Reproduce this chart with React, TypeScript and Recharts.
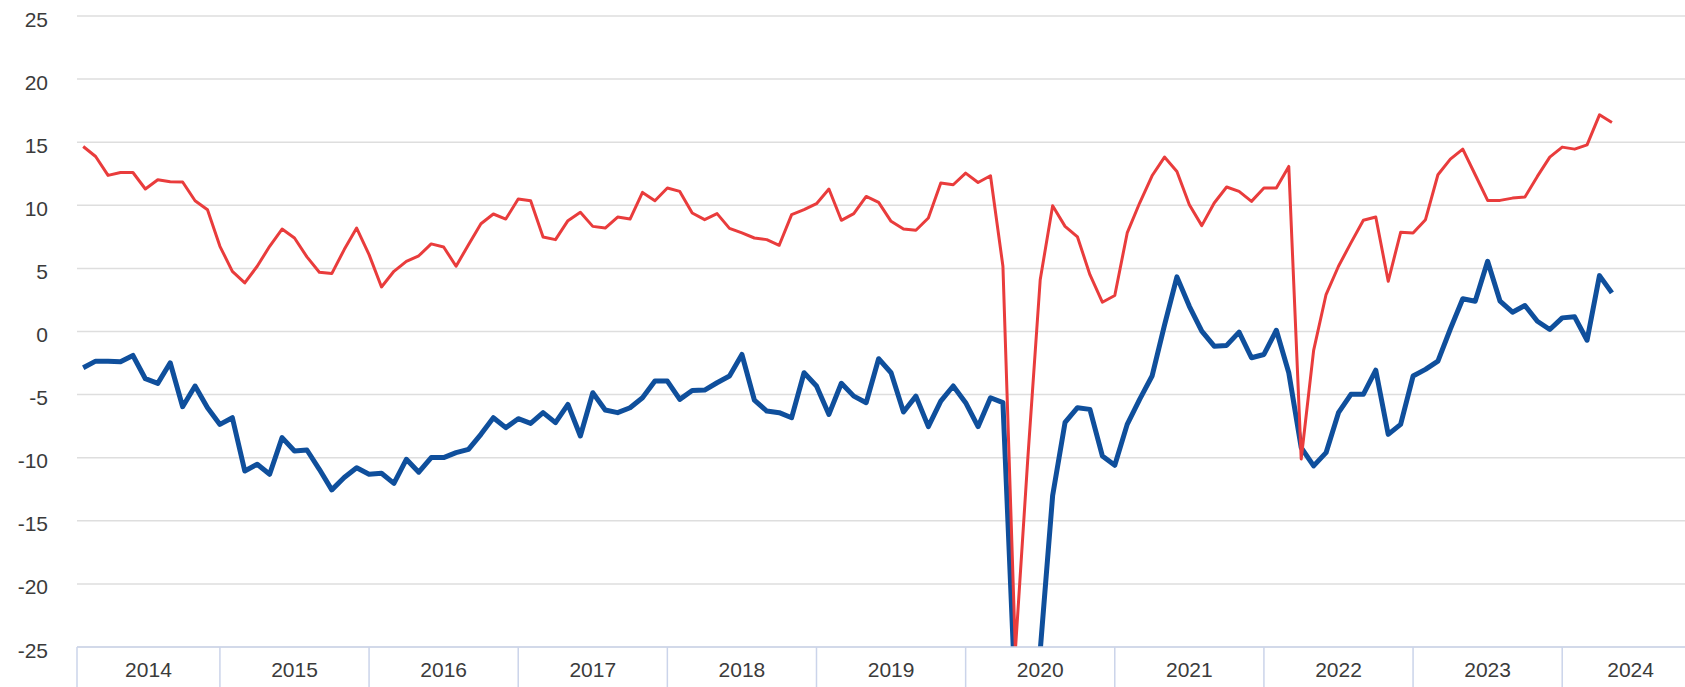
import React from 'react';
import { LineChart, Line, XAxis, YAxis, CartesianGrid } from 'recharts';

// Monthly observations, Feb 2014 .. May 2024 (index 0 = Feb 2014)
const yearLabels = ['2014', '2015', '2016', '2017', '2018', '2019', '2020', '2021', '2022', '2023', '2024'];
// index of each January point (2015..2024)
const januaryIndex = [11, 23, 35, 47, 59, 71, 83, 95, 107, 119];
const axisStart = -0.5;
const lastYearEnd = 130;
const axisEnd = 128.88;
const yTicks = [-25, -20, -15, -10, -5, 0, 5, 10, 15, 20, 25];

const redSeries = [
  14.66, 13.87, 12.37, 12.6, 12.6, 11.29, 12.03, 11.87, 11.85, 10.36,
  9.65, 6.75, 4.77, 3.85, 5.17, 6.75, 8.12, 7.41, 5.91, 4.69,
  4.59, 6.49, 8.2, 6.09, 3.53, 4.77, 5.56, 6.0, 6.94, 6.7,
  5.17, 6.88, 8.54, 9.31, 8.91, 10.5, 10.36, 7.49, 7.28, 8.78,
  9.44, 8.33, 8.2, 9.07, 8.91, 11.02, 10.36, 11.37, 11.1, 9.39,
  8.86, 9.34, 8.17, 7.81, 7.41, 7.28, 6.83, 9.26, 9.65, 10.13,
  11.29, 8.81, 9.34, 10.7, 10.23, 8.73, 8.12, 8.02, 8.99, 11.76,
  11.63, 12.55, 11.81, 12.34, 5.17, -25.3, -10.1, 4.1, 9.97, 8.33,
  7.49, 4.5, 2.32, 2.85, 7.81, 10.18, 12.34, 13.82, 12.68, 10.05,
  8.39, 10.18, 11.45, 11.1, 10.31, 11.37, 11.37, 13.08, -10.1, -1.5,
  2.93, 5.17, 7.02, 8.81, 9.07, 3.98, 7.86, 7.81, 8.86, 12.42,
  13.66, 14.45, 12.42, 10.39, 10.39, 10.57, 10.65, 12.29, 13.82, 14.61,
  14.45, 14.79, 17.17, 16.56,
];

const blueSeries = [
  -2.87, -2.35, -2.35, -2.4, -1.9, -3.74, -4.11, -2.48, -5.96, -4.32,
  -6.04, -7.36, -6.83, -11.05, -10.52, -11.31, -8.41, -9.47, -9.39, -10.92,
  -12.55, -11.57, -10.79, -11.31, -11.23, -12.03, -10.13, -11.15, -9.99, -9.99,
  -9.6, -9.34, -8.15, -6.83, -7.62, -6.91, -7.28, -6.43, -7.22, -5.78,
  -8.28, -4.85, -6.22, -6.43, -6.04, -5.25, -3.93, -3.93, -5.38, -4.67,
  -4.64, -4.06, -3.53, -1.82, -5.43, -6.3, -6.43, -6.83, -3.27, -4.32,
  -6.57, -4.1, -5.12, -5.64, -2.16, -3.27, -6.38, -5.12, -7.54, -5.51,
  -4.32, -5.64, -7.54, -5.25, -5.64, -29, -31, -25.3, -13.0, -7.2,
  -6.04, -6.17, -9.86, -10.6, -7.36, -5.38, -3.53, 0.5, 4.33, 2.0,
  0.03, -1.16, -1.1, -0.05, -2.08, -1.82, 0.1, -3.27, -9.2, -10.65,
  -9.6, -6.43, -4.98, -4.98, -3.06, -8.15, -7.36, -3.53, -3.0, -2.35,
  0.2, 2.59, 2.4, 5.56, 2.4, 1.53, 2.06, 0.81, 0.16, 1.08,
  1.16, -0.69, 4.43, 3.06,
];

const data = redSeries.map((r, i) => ({ i, red: r, blue: blueSeries[i] }));
const boundaries = [axisStart, ...januaryIndex, lastYearEnd];
const yearCenters = yearLabels.map((_, k) => (boundaries[k] + boundaries[k + 1]) / 2);
const dividerTicks = [axisStart, ...januaryIndex];
const xTicks = [...dividerTicks, ...yearCenters].sort((a, b) => a - b);

const FONT = '"Liberation Sans", Arial, sans-serif';
const TEXT = '#3b3b3b';
const AXIS = '#cbd4ea';

const YTick = (props: any) => {
  const { x, y, payload } = props;
  return (
    <text x={x} y={y + 10.5} textAnchor="end" fontFamily={FONT} fontSize={21} fill={TEXT}>
      {payload.value}
    </text>
  );
};

const XTick = (props: any) => {
  const { x, y, payload } = props;
  const v = payload.value;
  if (dividerTicks.indexOf(v) >= 0) {
    return <line x1={x} y1={y} x2={x} y2={y + 40} stroke={AXIS} strokeWidth={1.5} />;
  }
  const idx = yearCenters.indexOf(v);
  return (
    <text x={x} y={y + 30} textAnchor="middle" fontFamily={FONT} fontSize={21} fill={TEXT}>
      {yearLabels[idx]}
    </text>
  );
};

export default function App() {
  return (
    <div style={{ position: 'absolute', left: 0, top: 0, width: 1685, height: 687, background: '#fff' }}>
      <LineChart width={1685} height={687} data={data} margin={{ top: 16, right: 0, bottom: 0, left: 0 }}>
        <CartesianGrid vertical={false} stroke="#dedede" strokeWidth={1.5} />
        <XAxis
          dataKey="i"
          type="number"
          domain={[axisStart, axisEnd]}
          allowDataOverflow
          ticks={xTicks}
          interval={0}
          height={40}
          tickSize={0}
          tickMargin={0}
          tickLine={false}
          axisLine={{ stroke: AXIS, strokeWidth: 1.5 }}
          tick={<XTick />}
        />
        <YAxis
          domain={[-25, 25]}
          ticks={yTicks}
          allowDataOverflow
          interval={0}
          width={77}
          axisLine={false}
          tickLine={false}
          tickMargin={23}
          tick={<YTick />}
        />
        <Line
          type="linear"
          dataKey="blue"
          stroke="#0f4f9c"
          strokeWidth={5}
          strokeLinejoin="round"
          dot={false}
          activeDot={false}
          isAnimationActive={false}
        />
        <Line
          type="linear"
          dataKey="red"
          stroke="#e93c3c"
          strokeWidth={3}
          strokeLinejoin="round"
          dot={false}
          activeDot={false}
          isAnimationActive={false}
        />
      </LineChart>
    </div>
  );
}
